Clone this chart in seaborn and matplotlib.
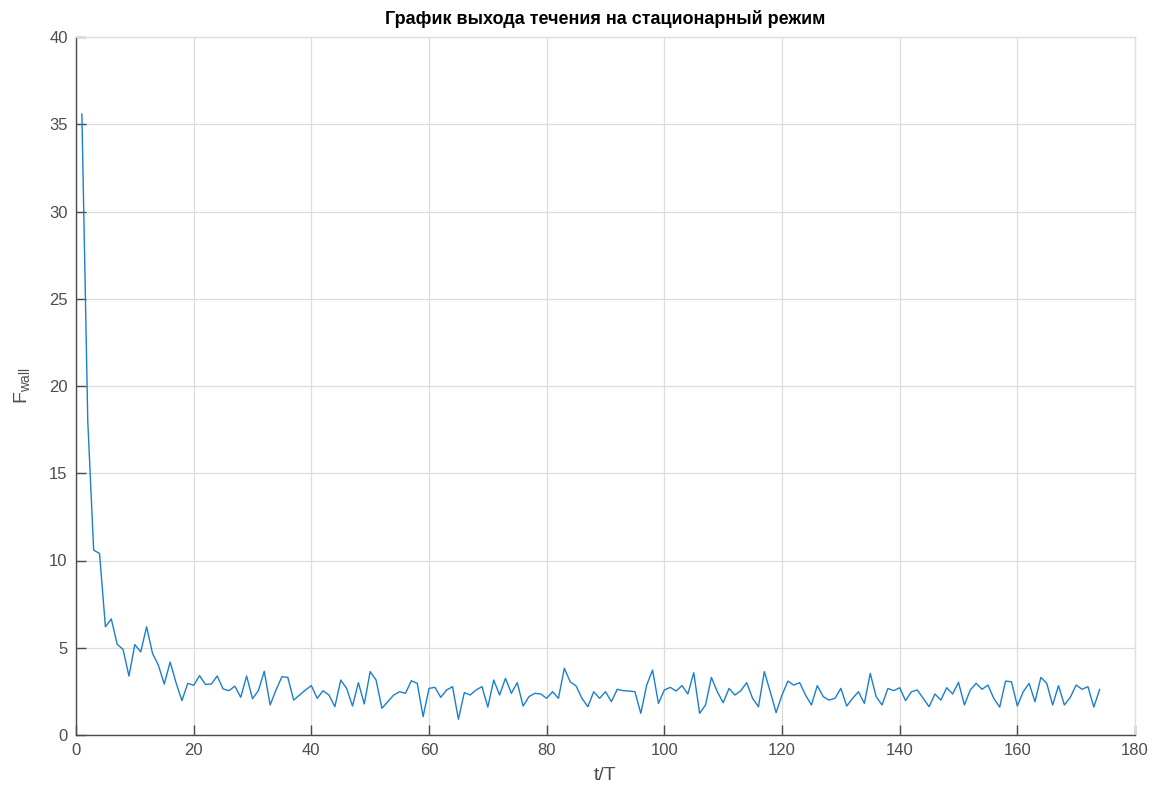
import numpy as np
import pandas as pd
import matplotlib
matplotlib.use("Agg")
import matplotlib.pyplot as plt
import seaborn as sns

# Data: F_wall per period t/T (1..174)
t_values = list(range(1, 175))
f_wall = [
    35.6, 18.0, 10.6, 10.4, 6.2, 6.65, 5.2, 4.9, 3.38, 5.18,
    4.76, 6.2, 4.68, 4.0, 2.92, 4.18, 3.0, 1.97, 2.96, 2.85,
    3.4, 2.9, 2.92, 3.38, 2.64, 2.54, 2.8, 2.16, 3.38, 2.08,
    2.54, 3.65, 1.72, 2.58, 3.34, 3.3, 2.0, 2.29, 2.58, 2.83,
    2.1, 2.54, 2.29, 1.62, 3.15, 2.67, 1.66, 3.0, 1.78, 3.63,
    3.15, 1.53, 1.91, 2.29, 2.48, 2.39, 3.11, 2.96, 1.05, 2.67,
    2.73, 2.16, 2.58, 2.77, 0.9, 2.43, 2.29, 2.58, 2.77, 1.6,
    3.15, 2.29, 3.25, 2.39, 3.0, 1.66, 2.2, 2.39, 2.35, 2.1,
    2.48, 2.1, 3.82, 3.05, 2.81, 2.1, 1.62, 2.48, 2.1, 2.48,
    1.91, 2.62, 2.54, 2.52, 2.48, 1.24, 2.86, 3.72, 1.81, 2.58,
    2.73, 2.52, 2.83, 2.35, 3.57, 1.24, 1.72, 3.3, 2.48, 1.85,
    2.67, 2.29, 2.54, 3.0, 2.1, 1.62, 3.63, 2.48, 1.28, 2.29,
    3.09, 2.86, 3.0, 2.29, 1.72, 2.83, 2.2, 2.0, 2.1, 2.67,
    1.66, 2.1, 2.48, 1.81, 3.53, 2.2, 1.72, 2.67, 2.54, 2.71,
    1.97, 2.48, 2.58, 2.1, 1.62, 2.35, 2.0, 2.71, 2.35, 3.02,
    1.72, 2.58, 2.96, 2.62, 2.86, 2.1, 1.6, 3.09, 3.05, 1.66,
    2.48, 2.96, 1.91, 3.3, 2.96, 1.72, 2.83, 1.72, 2.16, 2.86,
    2.62, 2.77, 1.6, 2.62,
]
x_ticks = [0, 20, 40, 60, 80, 100, 120, 140, 160, 180]
y_ticks = [0, 5, 10, 15, 20, 25, 30, 35, 40]

title = "График выхода течения на стационарный режим"
xlabel = "t/T"
ylabel = r"F$_{\mathrm{wall}}$"

df = pd.DataFrame({"t": t_values, "F": f_wall})

sns.set_theme(style="whitegrid")
plt.rcParams["font.family"] = ["Liberation Sans", "DejaVu Sans"]
plt.rcParams["mathtext.fontset"] = "custom"
plt.rcParams["mathtext.rm"] = "Liberation Sans"
plt.rcParams["mathtext.it"] = "Liberation Sans:italic"

fig = plt.figure(figsize=(11.55, 7.96), dpi=100)
ax = fig.add_axes([76 / 1155, 1 - 735 / 796, (1135 - 76) / 1155, (735 - 37) / 796])

sns.lineplot(data=df, x="t", y="F", ax=ax, color="#1a7fcc", linewidth=1.0)

ax.set_xlim(0, 180)
ax.set_ylim(0, 40)
ax.set_xticks(x_ticks)
ax.set_yticks(y_ticks)
ax.grid(True, color="#dcdcdc", linewidth=0.9)
ax.set_facecolor("white")
for name in ("left", "bottom"):
    ax.spines[name].set_visible(True)
    ax.spines[name].set_color("#4a4a4a")
    ax.spines[name].set_linewidth(1.0)
for name in ("top", "right"):
    ax.spines[name].set_visible(True)
    ax.spines[name].set_color("#e0e0e0")
    ax.spines[name].set_linewidth(1.0)
ax.tick_params(direction="in", length=7.5, width=1.0, colors="#4a4a4a",
               labelsize=12, labelcolor="#4d4d4d", bottom=True, left=True,
               top=False, right=False, pad=6)

ax.set_title(title, fontsize=13, fontweight="bold", color="black", pad=9)
ax.set_xlabel(xlabel, fontsize=14, color="#4d4d4d", labelpad=6)
ax.set_ylabel(ylabel, fontsize=14, color="#4d4d4d", labelpad=12)

fig.savefig("out.png", dpi=100, facecolor="white")
